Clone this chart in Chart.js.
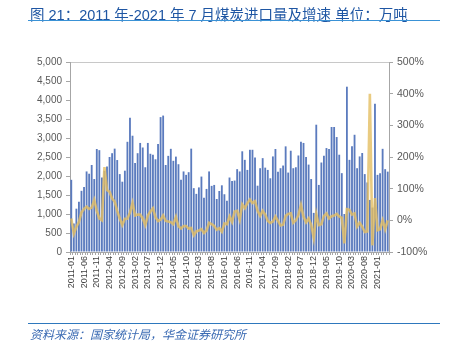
<!DOCTYPE html>
<html>
<head>
<meta charset="utf-8">
<script src="https://cdn.jsdelivr.net/npm/chart.js@4"></script>
<style>
  body { margin: 0; background: #fff; }
  #wrap { position: relative; width: 453px; height: 345px; overflow: hidden; }
  #chart { position: absolute; left: 0; top: 0; }
  .title { position: absolute; left: 30px; top: 3px; font: 14.5px "Liberation Sans", "Noto Sans CJK SC", sans-serif; color: #1f56a3; white-space: nowrap; }
  .rule { position: absolute; left: 28px; width: 412px; height: 1px; }
  .src { position: absolute; left: 30px; top: 325px; font: italic 12px "Noto Sans CJK SC", sans-serif; color: #3a6ab3; white-space: nowrap; }
</style>
</head>
<body>
<div id="wrap">
  <canvas id="chart" width="453" height="345"></canvas>
  <div class="title">图 21：2011 年-2021 年 7 月煤炭进口量及增速 单位：万吨</div>
  <div class="rule" style="top:20px;background:#3a92d6"></div>
  <div class="rule" style="top:323px;background:#2e78bd"></div>
  <div class="src">资料来源：国家统计局，华金证券研究所</div>
</div>
<script>
// monthly coal imports (万吨) and year-on-year growth (%), 2011-01 .. 2021-05
const months = [];
for (let y = 2011; y <= 2021; y++) {
  for (let m = 1; m <= 12; m++) {
    if (y === 2021 && m > 5) break;
    months.push(y + '-' + String(m).padStart(2, '0'));
  }
}
const imports = [
  1900, 750, 1140, 1320, 1610, 1710, 2120, 2060, 2290, 1920, 2710, 2680,
  1960, 2135, 2250, 2500, 2600, 2720, 2420, 2050, 1850, 2140, 2900, 3530,
  3060, 2340, 2600, 2870, 2750, 2230, 2870, 2585, 2560, 2440, 2840, 3550,
  3590, 2290, 2530, 2715, 2400, 2510, 2310, 1900, 2120, 2030, 2100, 2720,
  1680, 1530, 1700, 1985, 1430, 1660, 2120, 1740, 1765, 1395, 1605, 1755,
  1520, 1350, 1960, 1870, 1880, 2180, 2120, 2650, 2425, 2160, 2690, 2690,
  2490, 1745, 2205, 2470, 2220, 2160, 1940, 2515, 2710, 2115, 2205, 2275,
  2780, 2090, 2665, 2205, 2230, 2540, 2900, 2870, 2500, 2300, 1920, 1030,
  3350, 1765, 2355, 2530, 2735, 2710, 3290, 3290, 3025, 2560, 2075, 1000,
  4350, 2425, 2780, 3085, 2205, 2515, 2605, 2050, 1830, 1370, 1170, 3900,
  2030, 2075, 2715, 2180, 2115
];
const growth = [
  6, -42, -21, -5, 25, 36, 43, 36, 40, 64, 30, 6,
  0, 168, 96, 90, 69, 59, 30, 5, -15, 5, 5, 25,
  55, 15, 18, 18, 6, -15, 15, 28, 38, 10, -2, 2,
  15, -2, -4, -6, -12, 11, -19, -26, -18, -18, -26, -24,
  -47, -35, -32, -28, -40, -32, -8, -12, -18, -30, -25, -36,
  -10, -12, 12, -5, 28, 30, 2, 50, 38, 54, 66, 55,
  60, 30, 14, 30, 18, -2, -8, -4, 12, -2, -16, -14,
  14, 20, 22, -8, 0, 17, 48, 12, -6, 6, -14, -55,
  20, -15, -12, 14, 22, 6, 13, 15, 20, 12, 8, -73,
  35, 33, 18, 22, -20, -8, -20, -37, -35, 400, -79, 70,
  -31, -28, 0, -28, 0
];

const axisGrey = '#a6a6a6';
const tickFont = { family: 'Liberation Sans, Arial, sans-serif', size: 10 };

new Chart(document.getElementById('chart'), {
  data: {
    labels: months,
    datasets: [
      {
        type: 'line',
        label: '同比增速',
        data: growth,
        yAxisID: 'y1',
        borderColor: 'rgba(228,190,98,0.8)',
        borderWidth: 2.6,
        pointRadius: 0,
        tension: 0,
        order: 0
      },
      {
        type: 'bar',
        label: '煤炭进口量',
        data: imports,
        yAxisID: 'y',
        backgroundColor: '#5b7bbe',
        borderWidth: 0,
        barPercentage: 0.72,
        categoryPercentage: 1,
        order: 1
      }
    ]
  },
  options: {
    responsive: false,
    animation: false,
    layout: { padding: { top: 62, left: 0, right: 0, bottom: 0 } },
    plugins: { legend: { display: false }, tooltip: { enabled: false } },
    scales: {
      x: {
        grid: { drawOnChartArea: false, tickLength: 3, color: axisGrey, tickColor: axisGrey },
        border: { color: axisGrey },
        ticks: {
          autoSkip: false, minRotation: 90, maxRotation: 90, padding: 1,
          color: '#404040', font: { family: 'Liberation Sans, Arial, sans-serif', size: 9 },
          callback: (v, i) => (i % 5 === 0 ? months[i] : '')
        },
        afterFit: s => { s.height = 93; }
      },
      y: {
        position: 'left', min: 0, max: 5000,
        ticks: { stepSize: 500, color: '#595959', font: tickFont, padding: 4,
          callback: v => v.toLocaleString('en-US') },
        grid: { tickLength: 4, tickColor: axisGrey,
          color: c => (c.tick && c.tick.value === 5000 ? '#c8c8c8' : 'transparent') },
        border: { color: axisGrey },
        afterFit: s => { s.width = 70; }
      },
      y1: {
        position: 'right', min: -100, max: 500,
        ticks: { stepSize: 100, color: '#595959', font: { family: 'Liberation Sans, Arial, sans-serif', size: 10.5 }, padding: 4,
          callback: v => v + '%' },
        grid: { drawOnChartArea: false, tickLength: 4, color: axisGrey, tickColor: axisGrey },
        border: { color: axisGrey },
        afterFit: s => { s.width = 64; }
      }
    }
  }
});
</script>
</body>
</html>
